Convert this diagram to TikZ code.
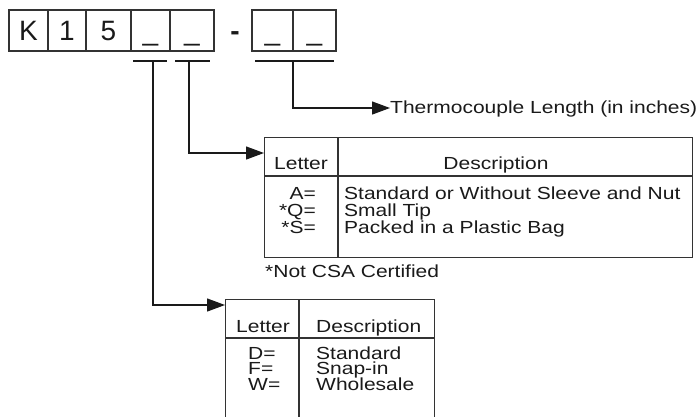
\documentclass[tikz,border=0pt]{standalone}
\usepackage{fontspec}
\setmainfont{Liberation Sans}
\newfontfamily\widesans[FakeStretch=1.2]{Liberation Sans}
\usetikzlibrary{arrows.meta,calc}
\definecolor{ink}{HTML}{1A1A1A}
\definecolor{edge}{HTML}{333333}
\begin{document}
\begin{tikzpicture}[x=1pt,y=-1pt,
  cell/.style={draw=edge,line width=1.4pt,minimum height=41pt,inner sep=0pt,text height=22pt,text depth=2pt,font=\fontsize{28}{28}\selectfont,text=ink},
  hyph/.style={inner sep=0pt,text height=22pt,text depth=2pt,font=\fontsize{28}{28}\selectfont\bfseries,text=ink},
  conn/.style={draw=ink,line width=1.3pt,-{Triangle[length=18pt,width=13pt]}},
  brk/.style={draw=ink,line width=1.3pt},
  tab/.style={draw=edge,line width=1.3pt,inner sep=0pt,anchor=north west},
  tline/.style={draw=edge,line width=1.3pt},
  txt/.style={font=\widesans\fontsize{17.5}{17.5}\selectfont,text=ink,inner sep=0pt,text height=12.5pt,text depth=1pt},
]
\useasboundingbox (0,0) rectangle (699,416);
\fill[white] (0,0) rectangle (699,416);
% code boxes
\node[cell,minimum width=39pt] (b1) at (28.5,30.5) {K};
\node[cell,minimum width=38pt] (b2) at (67,30.5) {1};
\node[cell,minimum width=45pt] (b3) at (108.5,30.5) {5};
\node[cell,minimum width=39pt] (b4) at (150.5,30.5) {\_};
\node[cell,minimum width=44pt] (b5) at (192,30.5) {\_};
\node[hyph] (hy) at (235,30.5) {-};
\node[cell,minimum width=41pt] (b6) at (272.5,30.5) {\_};
\node[cell,minimum width=43pt] (b7) at (314.5,30.5) {\_};
% brackets
\coordinate (s1) at (153,61);
\coordinate (s2) at (189,61);
\coordinate (s3) at (293,61);
\draw[brk] (133,61) -- (167,61);
\draw[brk] (175,61) -- (210,61);
\draw[brk] (255,61) -- (334,61);
% length label
\node[txt,anchor=west] (len) at (390,108) {Thermocouple Length (in inches)};
\draw[conn] (s3) |- (len.west);
% table 1
\node[tab,minimum width=428pt,minimum height=120pt] (tab1) at (264,137) {};
\draw[tline] (264,176) -- (692,176);
\draw[tline] (338,137) -- (338,257);
\node[txt,anchor=base] (t1h1) at (301,169) {Letter};
\node[txt,anchor=base] (t1h2) at (496,169) {Description};
\node[txt,anchor=base east] (t1a) at (316,199) {A=};
\node[txt,anchor=base east] (t1q) at (316,216) {*Q=};
\node[txt,anchor=base east] (t1s) at (316,233) {*S=};
\node[txt,anchor=base west] (t1da) at (344,199) {Standard or Without Sleeve and Nut};
\node[txt,anchor=base west] (t1dq) at (344,216) {Small Tip};
\node[txt,anchor=base west] (t1ds) at (344,233) {Packed in a Plastic Bag};
\node[txt,anchor=base west] (note) at (265,277) {*Not CSA Certified};
\draw[conn] (s2) |- ([yshift=-16pt]tab1.north west);
% table 2
\node[tab,minimum width=209pt,minimum height=130pt] (tab2) at (225,299) {};
\draw[tline] (225,338) -- (434,338);
\draw[tline] (299,299) -- (299,429);
\node[txt,anchor=base] (t2h1) at (263,332) {Letter};
\node[txt,anchor=base west] (t2h2) at (316,332) {Description};
\node[txt,anchor=base west] (t2d) at (248,359) {D=};
\node[txt,anchor=base west] (t2f) at (248,374.5) {F=};
\node[txt,anchor=base west] (t2w) at (248,390) {W=};
\node[txt,anchor=base west] (t2dd) at (316,359) {Standard};
\node[txt,anchor=base west] (t2df) at (316,374.5) {Snap-in};
\node[txt,anchor=base west] (t2dw) at (316,390) {Wholesale};
\draw[conn] (s1) |- ([yshift=-6pt]tab2.north west);
\end{tikzpicture}
\end{document}
